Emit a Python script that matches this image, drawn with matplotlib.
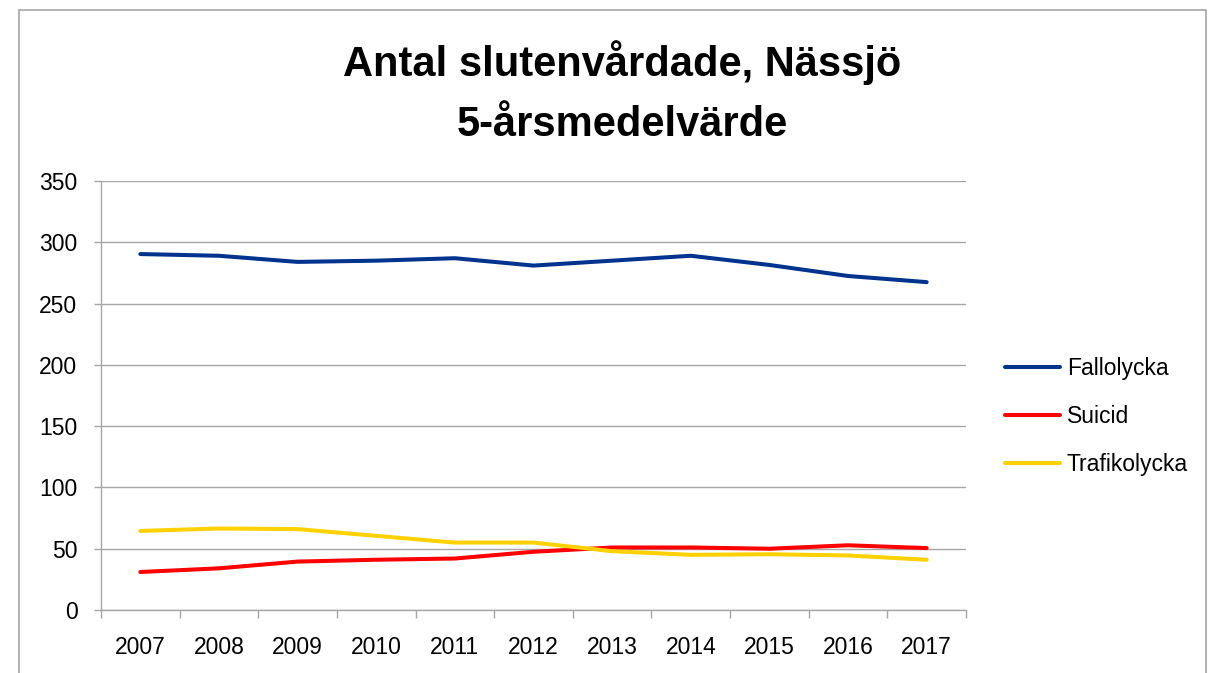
import matplotlib
matplotlib.use("Agg")
import matplotlib.pyplot as plt
from matplotlib.patches import Rectangle
from matplotlib.ticker import FixedLocator, NullFormatter

plt.rcParams['font.family'] = ['Liberation Sans', 'DejaVu Sans']

years = ['2007', '2008', '2009', '2010', '2011', '2012', '2013', '2014', '2015', '2016', '2017']
fallolycka = [290.4, 289.0, 284.0, 285.0, 287.0, 281.0, 285.0, 289.0, 281.5, 272.5, 267.5]
suicid = [31.0, 34.0, 39.5, 41.0, 42.0, 47.5, 51.0, 51.0, 50.0, 52.8, 50.5]
trafikolycka = [64.5, 66.5, 66.0, 60.5, 55.0, 55.0, 48.0, 45.0, 45.5, 44.5, 41.0]
series_names = ['Fallolycka', 'Suicid', 'Trafikolycka']
colors = ['#00338D', '#FF0000', '#FFD100']
title = 'Antal slutenvårdade, Nässjö\n5-årsmedelvärde'

W, H = 1208, 673
fig = plt.figure(figsize=(W / 100, H / 100), dpi=100)
fig.patch.set_facecolor('white')

# chart border
fig.patches.append(Rectangle((19 / W, -0.05), (1206 - 19) / W, 1.05 - 10 / H,
                             transform=fig.transFigure, fill=False,
                             edgecolor='#A6A6A6', linewidth=1.2))

ax = fig.add_axes([101 / W, 1 - 610 / H, (966 - 101) / W, (610 - 181) / H])
x = list(range(len(years)))
for vals, name, c in zip([fallolycka, suicid, trafikolycka], series_names, colors):
    ax.plot(x, vals, color=c, linewidth=2.9, label=name, solid_capstyle='round')

ax.set_xlim(-0.5, len(years) - 0.5)
ax.set_ylim(0, 350)
ax.set_yticks(range(0, 351, 50))
ax.yaxis.grid(True, color='#A6A6A6', linewidth=1.0)
ax.set_axisbelow(True)

ax.set_xticks(x)
ax.set_xticklabels(years)
ax.xaxis.set_minor_locator(FixedLocator([i - 0.5 for i in range(len(years) + 1)]))
ax.xaxis.set_minor_formatter(NullFormatter())
ax.tick_params(axis='x', which='major', length=0, pad=19, labelsize=16.5, colors='black')
ax.tick_params(axis='x', which='minor', length=6, width=1.0, color='#A6A6A6')
ax.tick_params(axis='y', which='major', length=5, width=1.0, color='#A6A6A6', pad=12, labelsize=16.5)

for s in ['top', 'right']:
    ax.spines[s].set_visible(False)
for s in ['left', 'bottom']:
    ax.spines[s].set_color('#A6A6A6')
    ax.spines[s].set_linewidth(1.0)

leg = ax.legend(loc='upper left', bbox_to_anchor=(1005 / W, 1 - 357 / H), bbox_transform=fig.transFigure,
                frameon=False, fontsize=16.5, handlelength=2.4, handletextpad=0.3,
                labelspacing=1.1, borderaxespad=0, borderpad=0)

fig.text(622 / W, 1 - 93 / H, title, ha='center', va='center', fontsize=30,
         fontweight='bold', linespacing=1.65)

fig.savefig('out.png', dpi=100)
